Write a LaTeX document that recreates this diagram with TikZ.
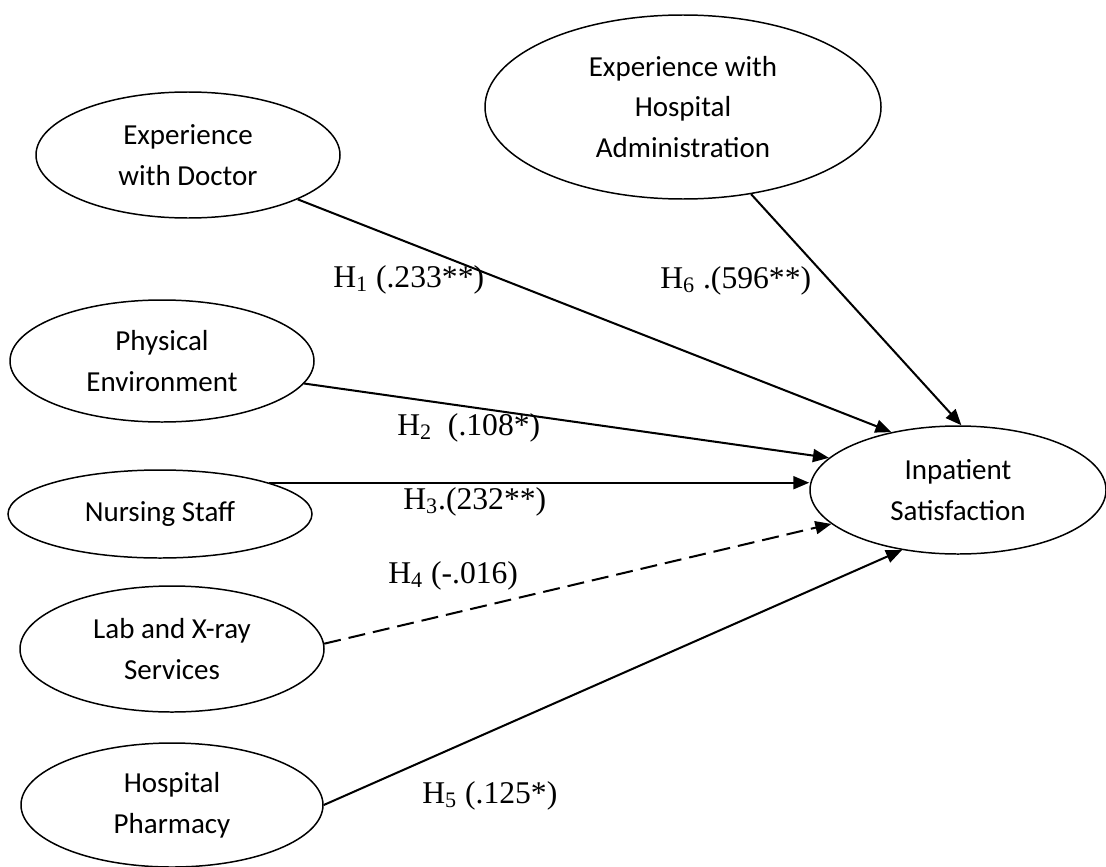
\documentclass[tikz,border=0pt]{standalone}
\usepackage{fontspec}
\setmainfont{Liberation Serif}
\newfontfamily\boxfont{Carlito}
\usetikzlibrary{shapes.geometric,arrows.meta}

\begin{document}
\begin{tikzpicture}[
  construct/.style={draw, ellipse, line width=0.85pt, inner sep=0pt, align=center,
    font=\boxfont\fontsize{16.5}{23.3}\selectfont},
  hyp/.style={line width=1.15pt, -{Triangle[length=0.32cm,width=0.26cm]}},
  coef/.style={anchor=base west, inner sep=0pt, font=\fontsize{18}{20}\selectfont}
]
\useasboundingbox (0,0) rectangle (22.12,-17.32);
% constructs
\node [construct, minimum width=6.08cm, minimum height=2.52cm] (doc) at (3.76,-3.10) {Experience\\with Doctor};
\node [construct, minimum width=7.92cm, minimum height=3.68cm] (adm) at (13.66,-2.14) {Experience with\\Hospital\\Administration};
\node [construct, minimum width=6.08cm, minimum height=2.44cm] (phy) at (3.24,-7.22) {Physical\\Environment};
\node [construct, minimum width=6.08cm, minimum height=1.76cm] (nur) at (3.20,-10.28) {Nursing Staff};
\node [construct, minimum width=6.08cm, minimum height=2.52cm] (lab) at (3.44,-12.98) {Lab and X-ray\\Services};
\node [construct, minimum width=6.04cm, minimum height=2.48cm] (pha) at (3.44,-16.10) {Hospital\\Pharmacy};
\node [construct, minimum width=5.92cm, minimum height=2.56cm] (sat) at (19.16,-9.80) {Inpatient\\Satisfaction};
% paths
\draw [black, hyp] (doc.-22) -- (sat.139);
\draw [black, hyp] (adm.-52) -- (sat.87);
\draw [black, hyp] (phy.-9) -- (sat.166);
\draw [black, hyp] (nur.16) -- (nur.16 -| sat.west);
\draw [black, hyp, dash pattern=on 0.34cm off 0.16cm] (lab.2) -- (sat.195);
\draw [black, hyp] (pha.east) -- (sat.227);
% coefficients
\node [coef] (h1) at (6.66,-5.74) {H\textsubscript{1} (.233**)};
\node [coef] (h6) at (13.20,-5.76) {H\textsubscript{6} .(596**)};
\node [coef] (h2) at (7.94,-8.70) {H\textsubscript{2}~ (.108*)};
\node [coef] (h3) at (8.06,-10.18) {H\textsubscript{3}.(232**)};
\node [coef] (h4) at (7.76,-11.66) {H\textsubscript{4} (-.016)};
\node [coef] (h5) at (8.44,-16.06) {H\textsubscript{5} (.125*)};
\end{tikzpicture}
\end{document}
